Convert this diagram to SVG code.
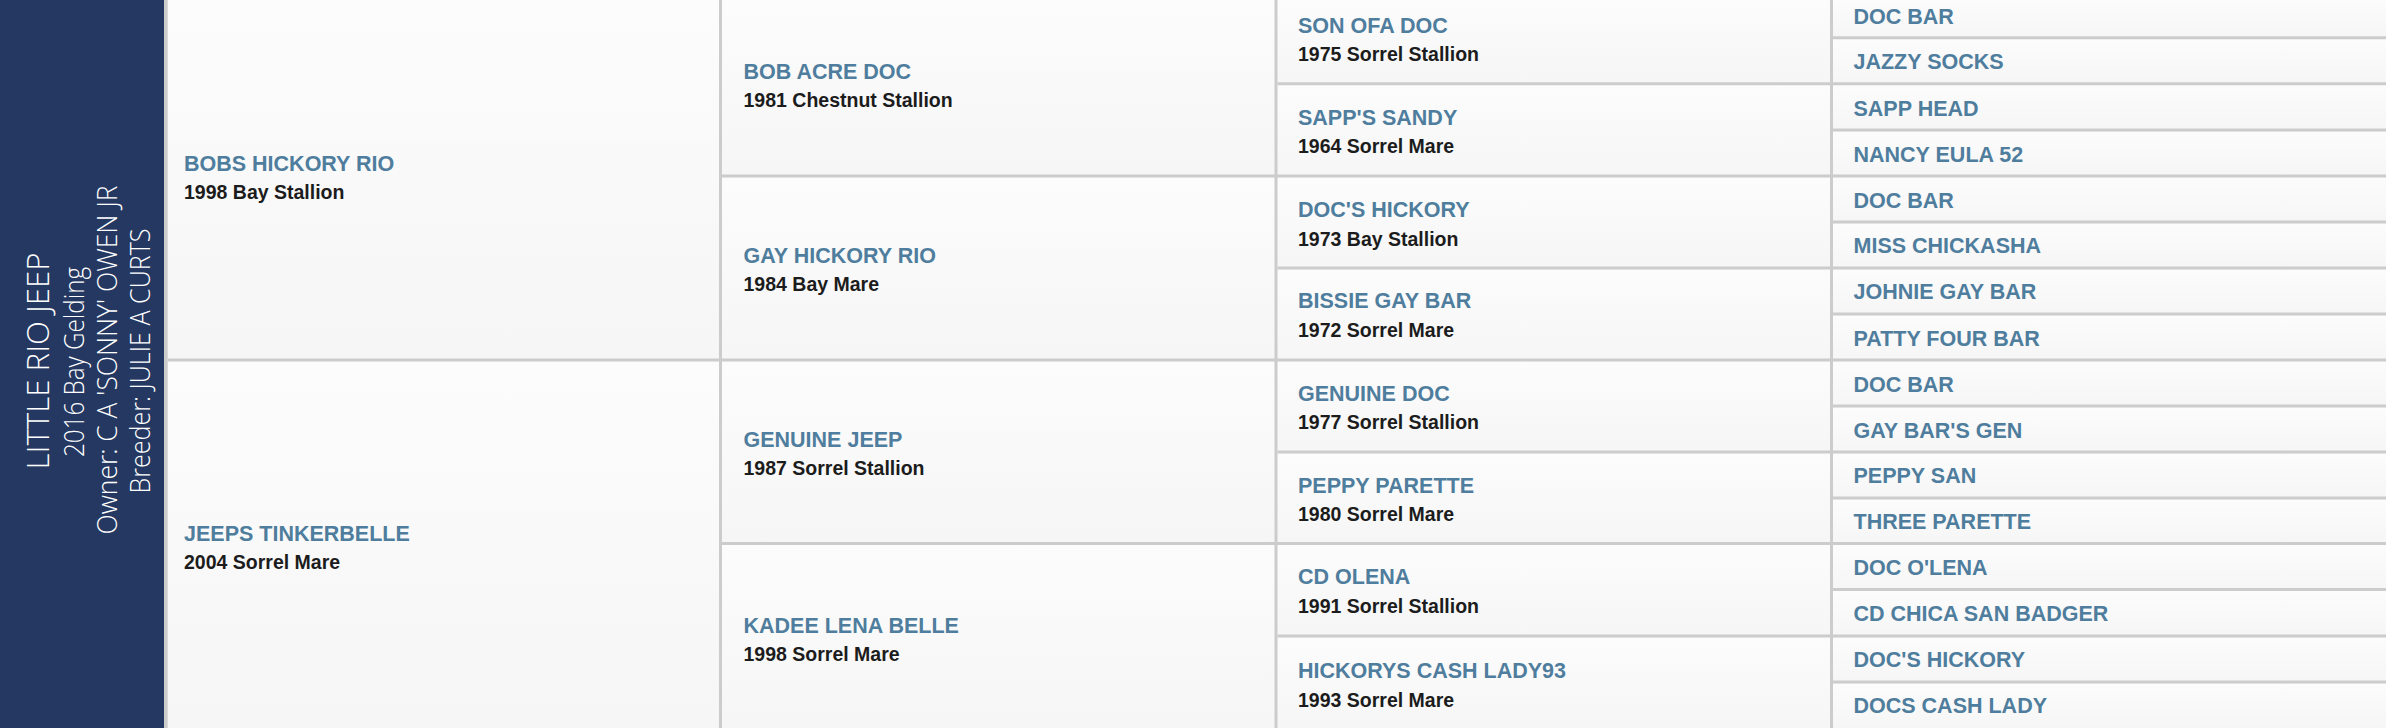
<svg xmlns="http://www.w3.org/2000/svg" width="2386" height="728" viewBox="0 0 2386 728">
<style>
.nm{font-family:"Liberation Sans",Arial,sans-serif;font-weight:700;font-size:21.5px;fill:#4f7d9d}
.sb{font-family:"Liberation Sans",Arial,sans-serif;font-weight:700;font-size:19.5px;fill:#1c1c1c}
.pn{font-family:"Open Sans","Liberation Sans",sans-serif;font-weight:300;fill:#ffffff}
.cell{fill:url(#cg)}
.gl{stroke:#cccccc;stroke-width:3;fill:none}
</style>
<defs>
<linearGradient id="cg" x1="0" y1="0" x2="0" y2="1">
<stop offset="0" stop-color="#fcfcfc"/>
<stop offset="1" stop-color="#f6f6f6"/>
</linearGradient>
</defs>
<rect x="0" y="0" width="2386" height="728" fill="#f9f9f9"/>
<g id="subject">
<rect x="0" y="0" width="164" height="728" fill="#243861"/>
<text class="pn" font-size="32" text-anchor="middle" textLength="217" lengthAdjust="spacingAndGlyphs" transform="translate(48.5,361) rotate(-90)">LITTLE RIO JEEP</text>
<text class="pn" font-size="27" text-anchor="middle" textLength="190" lengthAdjust="spacingAndGlyphs" transform="translate(84,362) rotate(-90)">2016 Bay Gelding</text>
<text class="pn" font-size="27" text-anchor="middle" textLength="349" lengthAdjust="spacingAndGlyphs" transform="translate(117,360) rotate(-90)">Owner: C A 'SONNY' OWEN JR</text>
<text class="pn" font-size="27" text-anchor="middle" textLength="265" lengthAdjust="spacingAndGlyphs" transform="translate(150,361) rotate(-90)">Breeder: JULIE A CURTS</text>
</g>
<g id="g1-sire"><rect class="cell" x="168" y="0" width="551" height="358.5"/><text class="nm" x="184" y="170.7">BOBS HICKORY RIO</text><text class="sb" x="184" y="199">1998 Bay Stallion</text></g>
<g id="g1-dam"><rect class="cell" x="168" y="361.5" width="551" height="366.5"/><text class="nm" x="184" y="541">JEEPS TINKERBELLE</text><text class="sb" x="184" y="569">2004 Sorrel Mare</text></g>
<g id="g2-1"><rect class="cell" x="722" y="0" width="552.5" height="174.5"/><text class="nm" x="743.5" y="79">BOB ACRE DOC</text><text class="sb" x="743.5" y="107">1981 Chestnut Stallion</text></g>
<g id="g2-2"><rect class="cell" x="722" y="177.5" width="552.5" height="181"/><text class="nm" x="743.5" y="263">GAY HICKORY RIO</text><text class="sb" x="743.5" y="291">1984 Bay Mare</text></g>
<g id="g2-3"><rect class="cell" x="722" y="361.5" width="552.5" height="180.5"/><text class="nm" x="743.5" y="447">GENUINE JEEP</text><text class="sb" x="743.5" y="475">1987 Sorrel Stallion</text></g>
<g id="g2-4"><rect class="cell" x="722" y="545" width="552.5" height="183"/><text class="nm" x="743.5" y="632.5">KADEE LENA BELLE</text><text class="sb" x="743.5" y="660.5">1998 Sorrel Mare</text></g>
<g id="g3-1"><rect class="cell" x="1277.5" y="0" width="552.5" height="82.3"/><text class="nm" x="1298" y="32.7">SON OFA DOC</text><text class="sb" x="1298" y="61">1975 Sorrel Stallion</text></g>
<g id="g3-2"><rect class="cell" x="1277.5" y="85.3" width="552.5" height="89.2"/><text class="nm" x="1298" y="125">SAPP'S SANDY</text><text class="sb" x="1298" y="153.3">1964 Sorrel Mare</text></g>
<g id="g3-3"><rect class="cell" x="1277.5" y="177.5" width="552.5" height="89"/><text class="nm" x="1298" y="216.7">DOC'S HICKORY</text><text class="sb" x="1298" y="245.7">1973 Bay Stallion</text></g>
<g id="g3-4"><rect class="cell" x="1277.5" y="269.5" width="552.5" height="89"/><text class="nm" x="1298" y="308.3">BISSIE GAY BAR</text><text class="sb" x="1298" y="337.3">1972 Sorrel Mare</text></g>
<g id="g3-5"><rect class="cell" x="1277.5" y="361.5" width="552.5" height="89"/><text class="nm" x="1298" y="400.7">GENUINE DOC</text><text class="sb" x="1298" y="429">1977 Sorrel Stallion</text></g>
<g id="g3-6"><rect class="cell" x="1277.5" y="453.5" width="552.5" height="88.5"/><text class="nm" x="1298" y="492.7">PEPPY PARETTE</text><text class="sb" x="1298" y="521">1980 Sorrel Mare</text></g>
<g id="g3-7"><rect class="cell" x="1277.5" y="545" width="552.5" height="89.5"/><text class="nm" x="1298" y="584.3">CD OLENA</text><text class="sb" x="1298" y="613.3">1991 Sorrel Stallion</text></g>
<g id="g3-8"><rect class="cell" x="1277.5" y="637.5" width="552.5" height="90.5"/><text class="nm" x="1298" y="678.3">HICKORYS CASH LADY93</text><text class="sb" x="1298" y="706.7">1993 Sorrel Mare</text></g>
<g id="g4-1"><rect class="cell" x="1833" y="0" width="553" height="36.2"/><text class="nm" x="1853.5" y="24">DOC BAR</text></g>
<g id="g4-2"><rect class="cell" x="1833" y="39.2" width="553" height="43.1"/><text class="nm" x="1853.5" y="69.3">JAZZY SOCKS</text></g>
<g id="g4-3"><rect class="cell" x="1833" y="85.3" width="553" height="43.1"/><text class="nm" x="1853.5" y="115.7">SAPP HEAD</text></g>
<g id="g4-4"><rect class="cell" x="1833" y="131.4" width="553" height="43.1"/><text class="nm" x="1853.5" y="161.7">NANCY EULA 52</text></g>
<g id="g4-5"><rect class="cell" x="1833" y="177.5" width="553" height="43"/><text class="nm" x="1853.5" y="207.7">DOC BAR</text></g>
<g id="g4-6"><rect class="cell" x="1833" y="223.5" width="553" height="43"/><text class="nm" x="1853.5" y="253.3">MISS CHICKASHA</text></g>
<g id="g4-7"><rect class="cell" x="1833" y="269.5" width="553" height="43"/><text class="nm" x="1853.5" y="299.3">JOHNIE GAY BAR</text></g>
<g id="g4-8"><rect class="cell" x="1833" y="315.5" width="553" height="43"/><text class="nm" x="1853.5" y="345.7">PATTY FOUR BAR</text></g>
<g id="g4-9"><rect class="cell" x="1833" y="361.5" width="553" height="43"/><text class="nm" x="1853.5" y="391.7">DOC BAR</text></g>
<g id="g4-10"><rect class="cell" x="1833" y="407.5" width="553" height="43"/><text class="nm" x="1853.5" y="437.7">GAY BAR'S GEN</text></g>
<g id="g4-11"><rect class="cell" x="1833" y="453.5" width="553" height="43"/><text class="nm" x="1853.5" y="483.3">PEPPY SAN</text></g>
<g id="g4-12"><rect class="cell" x="1833" y="499.5" width="553" height="42.5"/><text class="nm" x="1853.5" y="529.3">THREE PARETTE</text></g>
<g id="g4-13"><rect class="cell" x="1833" y="545" width="553" height="43"/><text class="nm" x="1853.5" y="575">DOC O'LENA</text></g>
<g id="g4-14"><rect class="cell" x="1833" y="591" width="553" height="43.5"/><text class="nm" x="1853.5" y="621">CD CHICA SAN BADGER</text></g>
<g id="g4-15"><rect class="cell" x="1833" y="637.5" width="553" height="43"/><text class="nm" x="1853.5" y="666.7">DOC'S HICKORY</text></g>
<g id="g4-16"><rect class="cell" x="1833" y="683.5" width="553" height="44.5"/><text class="nm" x="1853.5" y="713.3">DOCS CASH LADY</text></g>
<g id="connectors" class="gl">
<rect x="164" y="0" width="3.7" height="728" fill="#cccccc" stroke="none"/>
<line x1="720.5" y1="0" x2="720.5" y2="728"/>
<line x1="1276" y1="0" x2="1276" y2="728"/>
<line x1="1831.5" y1="0" x2="1831.5" y2="728"/>
<line x1="167.7" y1="360" x2="2386" y2="360"/>
<line x1="722" y1="176" x2="2386" y2="176"/>
<line x1="722" y1="543.5" x2="2386" y2="543.5"/>
<line x1="1277.5" y1="83.8" x2="2386" y2="83.8"/>
<line x1="1277.5" y1="268" x2="2386" y2="268"/>
<line x1="1277.5" y1="452" x2="2386" y2="452"/>
<line x1="1277.5" y1="636" x2="2386" y2="636"/>
<line x1="1833" y1="37.7" x2="2386" y2="37.7"/>
<line x1="1833" y1="129.9" x2="2386" y2="129.9"/>
<line x1="1833" y1="222" x2="2386" y2="222"/>
<line x1="1833" y1="314" x2="2386" y2="314"/>
<line x1="1833" y1="406" x2="2386" y2="406"/>
<line x1="1833" y1="498" x2="2386" y2="498"/>
<line x1="1833" y1="589.5" x2="2386" y2="589.5"/>
<line x1="1833" y1="682" x2="2386" y2="682"/>
</g>
</svg>
